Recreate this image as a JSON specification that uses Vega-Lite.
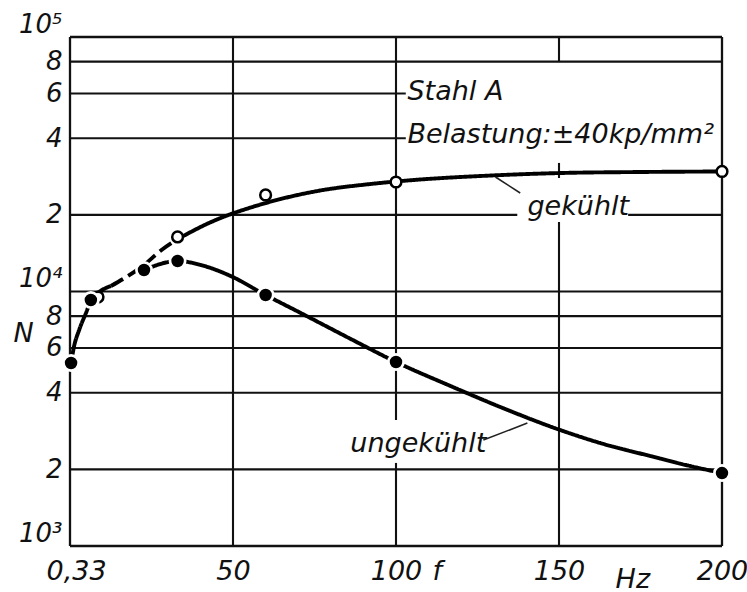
{
  "$schema": "https://vega.github.io/schema/vega-lite/v6.json",
  "width": 652,
  "height": 509,
  "autosize": {"type": "none"},
  "padding": {"left": 70, "top": 37, "right": 25, "bottom": 46},
  "background": "white",
  "config": {
    "view": {"stroke": null},
    "font": "DejaVu Sans",
    "axis": {
      "domain": false,
      "ticks": false,
      "grid": false,
      "labelFont": "DejaVu Sans",
      "labelFontStyle": "italic",
      "labelColor": "#111",
      "labelOverlap": false,
      "labelFlush": false,
      "labelBound": false
    }
  },
  "datasets": {
    "hgrid": [
      {"N": 1000, "f": 0, "f2": 200, "w": "frame"},
      {"N": 2000, "f": 0, "f2": 200, "w": "grid"},
      {"N": 4000, "f": 0, "f2": 200, "w": "grid"},
      {"N": 6000, "f": 0, "f2": 200, "w": "grid"},
      {"N": 8000, "f": 0, "f2": 200, "w": "grid"},
      {"N": 10000, "f": 0, "f2": 200, "w": "grid"},
      {"N": 20000, "f": 0, "f2": 137.2, "w": "grid"},
      {"N": 20000, "f": 171.2, "f2": 200, "w": "grid"},
      {"N": 40000, "f": 0, "f2": 103, "w": "grid"},
      {"N": 60000, "f": 0, "f2": 103, "w": "grid"},
      {"N": 80000, "f": 0, "f2": 200, "w": "grid"},
      {"N": 100000, "f": 0, "f2": 200, "w": "frame"}
    ],
    "vgrid": [
      {"f": 0, "N": 1000, "N2": 100000, "w": "frame"},
      {"f": 50, "N": 1000, "N2": 100000, "w": "grid"},
      {"f": 100, "N": 1000, "N2": 2120, "w": "grid"},
      {"f": 100, "N": 3126, "N2": 100000, "w": "grid"},
      {"f": 150, "N": 1000, "N2": 18750, "w": "grid"},
      {"f": 150, "N": 27920, "N2": 32000, "w": "grid"},
      {"f": 150, "N": 80000, "N2": 100000, "w": "grid"},
      {"f": 200, "N": 1000, "N2": 100000, "w": "frame"}
    ],
    "curves": [
      {"seg": "g1", "dash": "solid", "f": 0.33, "N": 5236},
      {"seg": "g1", "dash": "solid", "f": 1.2, "N": 6053},
      {"seg": "g1", "dash": "solid", "f": 2.8, "N": 7059},
      {"seg": "g1", "dash": "solid", "f": 4.9, "N": 8233},
      {"seg": "g1", "dash": "solid", "f": 6.4, "N": 9183},
      {"seg": "g1", "dash": "solid", "f": 8.6, "N": 9865},
      {"seg": "g1", "dash": "solid", "f": 12.56, "N": 10510},
      {"seg": "g2", "dash": "dashed", "f": 12.56, "N": 10510},
      {"seg": "g2", "dash": "dashed", "f": 16.54, "N": 11250},
      {"seg": "g2", "dash": "dashed", "f": 22.66, "N": 12710},
      {"seg": "g2", "dash": "dashed", "f": 27.87, "N": 14490},
      {"seg": "g2", "dash": "dashed", "f": 33.08, "N": 16080},
      {"seg": "g3", "dash": "solid", "f": 33.08, "N": 16080},
      {"seg": "g3", "dash": "solid", "f": 37.06, "N": 17130},
      {"seg": "g3", "dash": "solid", "f": 41.65, "N": 18340},
      {"seg": "g3", "dash": "solid", "f": 47.78, "N": 19800},
      {"seg": "g3", "dash": "solid", "f": 55.44, "N": 21380},
      {"seg": "g3", "dash": "solid", "f": 64.62, "N": 23090},
      {"seg": "g3", "dash": "solid", "f": 76.88, "N": 24950},
      {"seg": "g3", "dash": "solid", "f": 92.19, "N": 26450},
      {"seg": "g3", "dash": "solid", "f": 107.5, "N": 27550},
      {"seg": "g3", "dash": "solid", "f": 125.9, "N": 28430},
      {"seg": "g3", "dash": "solid", "f": 150.4, "N": 29210},
      {"seg": "g3", "dash": "solid", "f": 174.9, "N": 29480},
      {"seg": "g3", "dash": "solid", "f": 200, "N": 29620},
      {"seg": "u", "dash": "solid", "f": 22.7, "N": 12150},
      {"seg": "u", "dash": "solid", "f": 33.1, "N": 13180},
      {"seg": "u", "dash": "solid", "f": 40.1, "N": 12710},
      {"seg": "u", "dash": "solid", "f": 49.3, "N": 11500},
      {"seg": "u", "dash": "solid", "f": 60, "N": 9690},
      {"seg": "u", "dash": "solid", "f": 70.8, "N": 8230},
      {"seg": "u", "dash": "solid", "f": 86.1, "N": 6510},
      {"seg": "u", "dash": "solid", "f": 100, "N": 5285},
      {"seg": "u", "dash": "solid", "f": 116.7, "N": 4254},
      {"seg": "u", "dash": "solid", "f": 132, "N": 3517},
      {"seg": "u", "dash": "solid", "f": 149.5, "N": 2882},
      {"seg": "u", "dash": "solid", "f": 162.6, "N": 2540},
      {"seg": "u", "dash": "solid", "f": 178, "N": 2257},
      {"seg": "u", "dash": "solid", "f": 190.2, "N": 2062},
      {"seg": "u", "dash": "solid", "f": 200, "N": 1935}
    ],
    "leaders": [
      {"f": 130.5, "N": 28180, "f2": 138.1, "N2": 24380},
      {"f": 126.8, "N": 2609, "f2": 140.3, "N2": 3041}
    ],
    "measured": [
      {"cooling": "gekühlt", "f": 8.6, "N": 9515},
      {"cooling": "gekühlt", "f": 33, "N": 16380},
      {"cooling": "gekühlt", "f": 60, "N": 23950},
      {"cooling": "gekühlt", "f": 100, "N": 26930},
      {"cooling": "gekühlt", "f": 200, "N": 29620},
      {"cooling": "ungekühlt", "f": 0.33, "N": 5236},
      {"cooling": "ungekühlt", "f": 6.4, "N": 9260},
      {"cooling": "ungekühlt", "f": 22.7, "N": 12150},
      {"cooling": "ungekühlt", "f": 33, "N": 13180},
      {"cooling": "ungekühlt", "f": 60, "N": 9690},
      {"cooling": "ungekühlt", "f": 100, "N": 5285},
      {"cooling": "ungekühlt", "f": 200, "N": 1935}
    ],
    "notes": [
      {"label": "Stahl A", "f": 103.5, "N": 56570},
      {"label": "Belastung:±40kp/mm²", "f": 103.5, "N": 38320},
      {"label": "gekühlt", "f": 140.3, "N": 19900},
      {"label": "ungekühlt", "f": 86, "N": 2341}
    ]
  },
  "encoding": {
    "x": {
      "field": "f",
      "type": "quantitative",
      "scale": {"domain": [0, 200], "nice": false, "zero": false},
      "axis": {
        "title": null,
        "values": [0.33, 50, 100, 112.5, 150, 172.5, 200],
        "labelExpr": "datum.value == 0.33 ? '0,33' : datum.value == 112.5 ? 'f' : datum.value == 172.5 ? 'Hz' : '' + datum.value",
        "labelFontSize": 27,
        "labelPadding": {"condition": {"test": "datum.value == 172.5", "value": 20}, "value": 12},
        "labelOffset": {"condition": {"test": "datum.value == 0.33", "value": 5}, "value": 0}
      }
    },
    "y": {
      "field": "N",
      "type": "quantitative",
      "scale": {"type": "log", "domain": [1000, 100000], "nice": false},
      "axis": {
        "title": "N",
        "titleAngle": 0,
        "titleX": -47,
        "titleY": 296,
        "titleAlign": "center",
        "titleBaseline": "middle",
        "titleFont": "DejaVu Sans",
        "titleFontStyle": "italic",
        "titleFontWeight": "normal",
        "titleFontSize": 27,
        "titleColor": "#111",
        "values": [1000, 2000, 4000, 6000, 8000, 10000, 20000, 40000, 60000, 80000, 100000],
        "labelExpr": "datum.value == 1000 ? '10³' : datum.value == 10000 ? '10⁴' : datum.value == 100000 ? '10⁵' : '' + (datum.value < 10000 ? datum.value / 1000 : datum.value / 10000)",
        "labelFontSize": 26,
        "labelPadding": 8,
        "labelOffset": {"condition": {"test": "datum.value == 1000 || datum.value == 10000 || datum.value == 100000", "value": -13}, "value": 0}
      }
    }
  },
  "layer": [
    {
      "data": {"name": "hgrid"},
      "mark": {"type": "rule", "color": "#111"},
      "encoding": {
        "x2": {"field": "f2"},
        "strokeWidth": {"field": "w", "type": "nominal", "scale": {"domain": ["grid", "frame"], "range": [2.1, 2.7]}, "legend": null}
      }
    },
    {
      "data": {"name": "vgrid"},
      "mark": {"type": "rule", "color": "#111"},
      "encoding": {
        "y2": {"field": "N2"},
        "strokeWidth": {"field": "w", "type": "nominal", "scale": {"domain": ["grid", "frame"], "range": [2.1, 2.7]}, "legend": null}
      }
    },
    {
      "data": {"name": "curves"},
      "mark": {"type": "line", "color": "#000", "strokeWidth": 3.9, "interpolate": "monotone", "strokeCap": "butt"},
      "encoding": {
        "detail": {"field": "seg"},
        "strokeDash": {"field": "dash", "type": "nominal", "scale": {"domain": ["solid", "dashed"], "range": [[1, 0], [14, 6]]}, "legend": null}
      }
    },
    {
      "data": {"name": "leaders"},
      "mark": {"type": "rule", "color": "#222", "strokeWidth": 1.6},
      "encoding": {
        "x2": {"field": "f2"},
        "y2": {"field": "N2"}
      }
    },
    {
      "data": {"name": "measured"},
      "mark": {"type": "point", "filled": true, "opacity": 1},
      "encoding": {
        "shape": {"value": "circle"},
        "fill": {"field": "cooling", "type": "nominal", "scale": {"domain": ["gekühlt", "ungekühlt"], "range": ["white", "black"]}, "legend": null},
        "stroke": {"field": "cooling", "type": "nominal", "scale": {"domain": ["gekühlt", "ungekühlt"], "range": ["black", "white"]}, "legend": null},
        "strokeWidth": {"field": "cooling", "type": "nominal", "scale": {"domain": ["gekühlt", "ungekühlt"], "range": [2.2, 2]}, "legend": null},
        "size": {"field": "cooling", "type": "nominal", "scale": {"domain": ["gekühlt", "ungekühlt"], "range": [115, 230]}, "legend": null}
      }
    },
    {
      "data": {"name": "notes"},
      "mark": {"type": "text", "align": "left", "baseline": "alphabetic", "font": "DejaVu Sans", "fontStyle": "italic", "fontSize": 27, "color": "#111"},
      "encoding": {
        "text": {"field": "label"}
      }
    }
  ]
}
